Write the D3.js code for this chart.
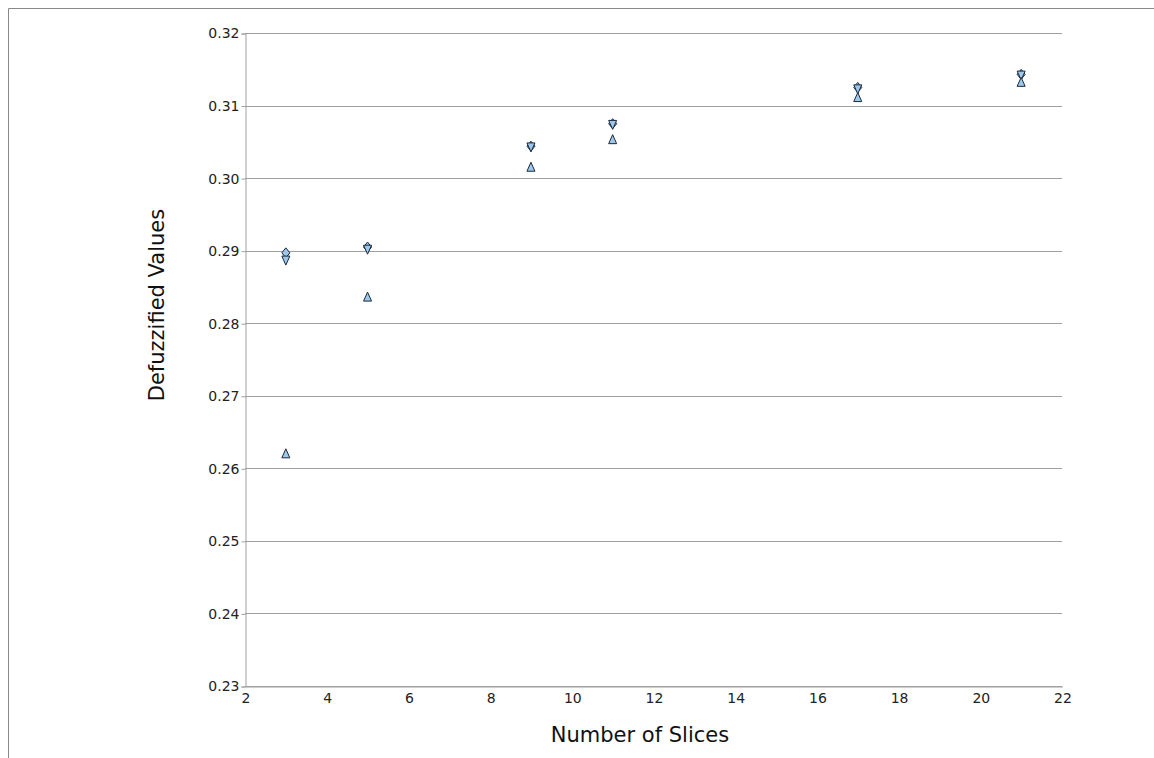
<!DOCTYPE html>
<html><head><meta charset="utf-8">
<script src="https://cdn.jsdelivr.net/npm/d3@7"></script>
<style>body{margin:0;background:#fff;} text{font-family:"DejaVu Sans",sans-serif;}</style>
</head><body>
<svg id="c" width="1154" height="758"></svg>
<script>
const slices = [3, 5, 9, 11, 17, 21];
const seriesDiamond = [0.2897, 0.2905, 0.3044, 0.3075, 0.3125, 0.3143];
const seriesDown = [0.2887, 0.2902, 0.3043, 0.3074, 0.3123, 0.3142];
const seriesUp = [0.2620, 0.2836, 0.3015, 0.3053, 0.3111, 0.3132];
const xTicks = [2, 4, 6, 8, 10, 12, 14, 16, 18, 20, 22];
const yTicks = [0.23, 0.24, 0.25, 0.26, 0.27, 0.28, 0.29, 0.30, 0.31, 0.32];

const svg = d3.select("#c");
const L = 245, R = 1062, T = 33, B = 686;
const x = d3.scaleLinear().domain([2, 22]).range([L, R]);
const y = d3.scaleLinear().domain([0.23, 0.32]).range([B, T]);

// outer frame
svg.append("path").attr("d", "M8.5,758 V8.5 H1154").attr("fill", "none").attr("stroke", "#888").attr("stroke-width", 1);

// gridlines
svg.append("g").selectAll("line").data(yTicks).join("line")
  .attr("x1", L).attr("x2", R)
  .attr("y1", d => Math.round(y(d)) + 0.5).attr("y2", d => Math.round(y(d)) + 0.5)
  .attr("stroke", "#a0a0a0").attr("stroke-width", 1);

// y axis
const yAxis = d3.axisLeft(y).tickValues(yTicks).tickFormat(d3.format(".2f")).tickSize(4).tickPadding(2);
const gy = svg.append("g").attr("transform", `translate(${L + 0.5},0.5)`).call(yAxis);
gy.select(".domain").attr("stroke", "#a0a0a0");
gy.selectAll(".tick line").attr("stroke", "#a0a0a0");
gy.selectAll("text").attr("font-size", 14).attr("fill", "#222").attr("font-family", "DejaVu Sans");

// x axis
const xAxis = d3.axisBottom(x).tickValues(xTicks).tickFormat(d3.format("d")).tickSize(0).tickPadding(7);
const gx = svg.append("g").attr("transform", `translate(0.5,${B + 0.5})`).call(xAxis);
gx.select(".domain").attr("stroke", "#a0a0a0");
gx.selectAll("text").attr("font-size", 14).attr("fill", "#222").attr("font-family", "DejaVu Sans");

// titles
svg.append("text").attr("x", 640).attr("y", 742).attr("text-anchor", "middle")
  .attr("font-size", 21).attr("fill", "#111").text("Number of Slices");
svg.append("text").attr("transform", `translate(164,305) rotate(-90)`).attr("text-anchor", "middle")
  .attr("font-size", 21).attr("fill", "#111").text("Defuzzified Values");

const fill = "#9cc8ee", stroke = "#1c2838";
const tri = 5;
function upPath(cx, cy){ return `M${cx},${cy - tri} L${cx + 4},${cy + 4} L${cx - 4},${cy + 4} Z`; }
function downPath(cx, cy){ return `M${cx - 4},${cy - 4} L${cx + 4},${cy - 4} L${cx},${cy + tri} Z`; }
function diamondPath(cx, cy){ return `M${cx},${cy - 5} L${cx + 4},${cy} L${cx},${cy + 5} L${cx - 4},${cy} Z`; }

const g = svg.append("g");
g.selectAll(".dia").data(slices).join("path").attr("class", "dia")
  .attr("d", (d, i) => diamondPath(x(d), y(seriesDiamond[i])))
  .attr("fill", fill).attr("stroke", stroke).attr("stroke-width", 1);
g.selectAll(".dn").data(slices).join("path").attr("class", "dn")
  .attr("d", (d, i) => downPath(x(d), y(seriesDown[i])))
  .attr("fill", fill).attr("stroke", stroke).attr("stroke-width", 1);
g.selectAll(".up").data(slices).join("path").attr("class", "up")
  .attr("d", (d, i) => upPath(x(d), y(seriesUp[i])))
  .attr("fill", fill).attr("stroke", stroke).attr("stroke-width", 1);
</script>
</body></html>
